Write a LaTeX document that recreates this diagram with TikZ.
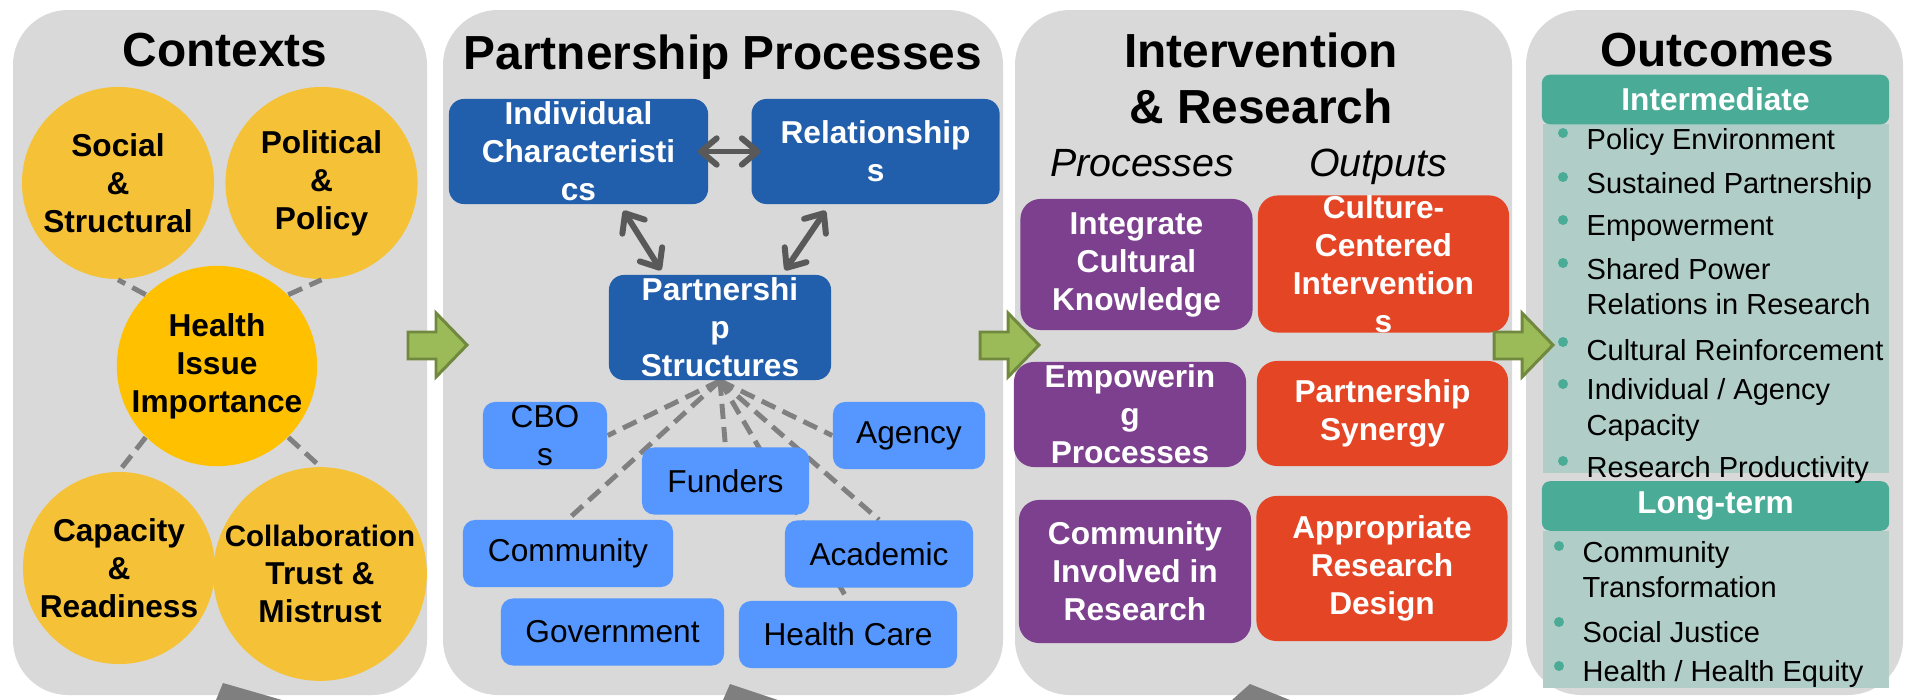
\documentclass[tikz,border=0pt]{standalone}
\usepackage{fontspec}
\setmainfont{Liberation Sans}
\usetikzlibrary{positioning,calc,arrows.meta}

\definecolor{panelgray}{RGB}{217,217,217}
\definecolor{ctxyellow}{RGB}{245,194,55}
\definecolor{issueyellow}{RGB}{255,192,0}
\definecolor{darkblue}{RGB}{33,94,172}
\definecolor{lightblue}{RGB}{85,150,255}
\definecolor{procpurple}{RGB}{124,64,143}
\definecolor{outred}{RGB}{228,69,37}
\definecolor{tealhead}{RGB}{74,171,150}
\definecolor{tealbody}{RGB}{177,205,199}
\definecolor{arrowgreen}{RGB}{155,187,89}
\definecolor{arrowedge}{RGB}{113,137,62}
\definecolor{dashgray}{RGB}{128,128,128}
\definecolor{linkgray}{RGB}{89,89,89}
\definecolor{wedgegray}{RGB}{127,127,127}

\pgfdeclarelayer{panels}
\pgfdeclarelayer{links}
\pgfsetlayers{panels,links,main}

\gdef\boxfont{\fontsize{9pt}{10.8pt}\selectfont}
\gdef\titlefont{\fontsize{13.6pt}{15.9pt}\selectfont\bfseries}
\gdef\itemfont{\fontsize{8.25pt}{10pt}\selectfont}

\begin{document}
\begin{tikzpicture}[x=0.01cm, y=-0.01cm,
  panel/.style={fill=panelgray, rounded corners=0.55cm},
  title/.style={font=\titlefont, align=center, inner sep=0pt},
  subtitle/.style={font=\fontsize{11.2pt}{13pt}\selectfont\itshape, anchor=base, inner sep=0pt},
  ctx/.style={circle, fill=ctxyellow, minimum size=1.92cm, inner sep=0pt, align=center, font=\boxfont\bfseries},
  dkbox/.style={fill=darkblue, rounded corners=0.15cm, text=white, align=center, font=\boxfont\bfseries, inner sep=0pt, minimum height=1.05cm},
  ltbox/.style={fill=lightblue, rounded corners=0.12cm, align=center, font=\boxfont, inner sep=0pt, minimum height=0.67cm},
  procbox/.style={fill=procpurple, rounded corners=0.2cm, text=white, align=center, font=\boxfont\bfseries, inner sep=0pt, minimum width=2.32cm},
  outbox/.style={fill=outred, rounded corners=0.2cm, text=white, align=center, font=\boxfont\bfseries, inner sep=0pt, minimum width=2.51cm},
  head/.style={fill=tealhead, rounded corners=0.08cm, text=white, font=\boxfont\bfseries, inner sep=0pt, minimum width=3.47cm, minimum height=0.495cm},
  tbody/.style={fill=tealbody, inner sep=0pt, minimum width=3.46cm},
  item/.style={anchor=west, align=left, font=\itemfont, inner sep=0pt},
  dot/.style={circle, fill=tealhead, minimum size=0.1cm, inner sep=0pt},
  dashline/.style={draw=dashgray, line width=1.4pt, dash pattern=on 4.3pt off 2.3pt},
  link/.style={draw=linkgray, line width=1.7pt, line cap=round, <->, >={Straight Barb[round, length=4.5pt, width=7.5pt]}},
  flow/.style={fill=arrowgreen, draw=arrowedge, line width=0.85pt}]

\useasboundingbox (0,0) rectangle (1905,700);

\begin{pgfonlayer}{panels}
\fill[panel] (13,10) rectangle (427,695);
\fill[panel] (443,10) rectangle (1003,695);
\fill[panel] (1015,10) rectangle (1512,695);
\fill[panel] (1526,10) rectangle (1903,695);
\end{pgfonlayer}

% contexts
\node[title, anchor=base] (ctxtitle) at (225,67) {Contexts};
\node[ctx] (social) at (118,183) {Social\\\&\\Structural};
\node[ctx, right=0.1cm of social] (political) {Political\\\&\\Policy};
\node[ctx, fill=issueyellow] (issue) at (217,366) {Health\\Issue\\Importance};
\node[ctx] (capacity) at (119,568) {Capacity\\\&\\Readiness};
\node[ctx] (trust) at (320,574) {{\fontsize{8.4pt}{10.8pt}\selectfont Collaboration}\\Trust \&\\Mistrust};

\path[dashline] (issue.135) edge (social.south)
	(issue.45) edge (political.south)
	(issue.225) edge (capacity.north)
	(issue.-45) edge (trust.north);

% partnership processes
\node[title, anchor=base] (pptitle) at (723,70) {Partnership Processes};
\node[dkbox, minimum width=2.59cm] (indiv) at (578.5,151.5) {Individual\\Characteristi\\cs};
\node[dkbox, minimum width=2.48cm, right=0.42cm of indiv] (rel) {Relationship\\s};
\node[dkbox, minimum width=2.22cm] (pstruct) at (720,327.5) {Partnershi\\p\\Structures};

\node[ltbox, minimum width=1.24cm] (cbos) at (545,435.5) {CBO\\s};
\node[ltbox, minimum width=1.52cm] (agency) at (909,435.5) {Agency};
\node[ltbox, minimum width=1.67cm] (funders) at (725.5,481) {Funders};
\node[ltbox, minimum width=2.10cm] (community) at (568,553.5) {Community};
\node[ltbox, minimum width=1.88cm] (academic) at (879,554) {Academic};
\node[ltbox, minimum width=2.23cm] (government) at (612.5,632) {Government};
\node[ltbox, minimum width=2.18cm] (hcare) at (848,634.5) {Health Care};

\draw[link, shorten <=-3.1pt, shorten >=-2.8pt] (indiv.east) -- (rel.west);
\draw[link] ($(indiv.south)+(45,6)$) -- ($(pstruct.north)+(-59,-4)$);
\draw[link] ($(rel.south)+(-50,6)$) -- ($(pstruct.north)+(65,-4)$);

\begin{pgfonlayer}{links}
\path[dashline] (pstruct.south) edge (cbos.east)
	edge (community.north)
	edge (funders.north)
	edge (agency.west)
	edge (academic.north)
	edge (hcare.north);
\end{pgfonlayer}

% intervention and research
\node[title] (irtitle) at (1261,78) {Intervention\\\& Research};
\node[subtitle] (proctitle) at (1142,176) {Processes};
\node[subtitle] (outtitle) at (1378,176) {Outputs};

\node[procbox, minimum height=1.31cm] (integ) at (1136.5,264.5) {Integrate\\Cultural\\Knowledge};
\node[procbox, minimum height=1.05cm] (empow) at (1130,414.5) {Empowerin\\g\\Processes};
\node[procbox, minimum height=1.43cm] (cominv) at (1135,571.5) {Community\\Involved in\\Research};
\node[outbox, minimum height=1.30cm] (culture) at (1383.5,264) {Culture-\\Centered\\Intervention\\s};
\node[outbox, minimum height=1.05cm] (synergy) at (1382.5,413.5) {Partnership\\Synergy};
\node[outbox, minimum height=1.45cm] (design) at (1382,568.5) {Appropriate\\Research\\Design};

% outcomes
\node[title, anchor=base] (octitle) at (1717,67) {Outcomes};
\node[tbody, minimum height=3.49cm] (interbody) at (1716,298.5) {};
\node[head] (interhead) at (1715.5,99.5) {Intermediate};
\node[tbody, minimum height=1.57cm] (longbody) at (1716,609.5) {};
\node[head] (longhead) at (1715.5,506) {Long-term};

\node[dot] (pedot) at (1563,133) {};
\node[item] (pe) at (1586,142) {Policy Environment};
\node[dot] (spdot) at (1563,177) {};
\node[item] (sp) at (1586,186) {Sustained Partnership};
\node[dot] (emdot) at (1563,220) {};
\node[item] (em) at (1586,229) {Empowerment};
\node[dot] (sprdot) at (1563,263) {};
\node[item] (spr) at (1586,287) {Shared Power\\Relations in Research};
\node[dot] (crdot) at (1563,342) {};
\node[item] (cr) at (1586,350) {Cultural Reinforcement};
\node[dot] (iacdot) at (1563,384) {};
\node[item] (iac) at (1586,410) {Individual / Agency\\Capacity};
\node[dot] (rpdot) at (1563,461) {};
\node[item] (rp) at (1586,470) {Research Productivity};

\node[dot] (ctdot) at (1559,546) {};
\node[item] (ct) at (1582,570) {Community\\Transformation};
\node[dot] (sjdot) at (1559,622) {};
\node[item] (sj) at (1582,632) {Social Justice};
\node[dot] (hhedot) at (1559,666) {};
\node[item] (hhe) at (1582,674) {Health / Health Equity};

% green arrows between the panels
\foreach \tx in {408,980,1494}
  \filldraw[flow] (\tx,332) -- (\tx+28,332) -- (\tx+28,313) -- (\tx+59,345)
    -- (\tx+28,377) -- (\tx+28,359) -- (\tx,359) -- cycle;

% grey wedges at the bottom edge
\fill[wedgegray] (216,700) -- (223,683) -- (282,700) -- cycle;
\fill[wedgegray] (723,700) -- (730,684) -- (778,700) -- cycle;
\fill[wedgegray] (1232,700) -- (1250,684) -- (1290,700) -- cycle;

\end{tikzpicture}
\end{document}
